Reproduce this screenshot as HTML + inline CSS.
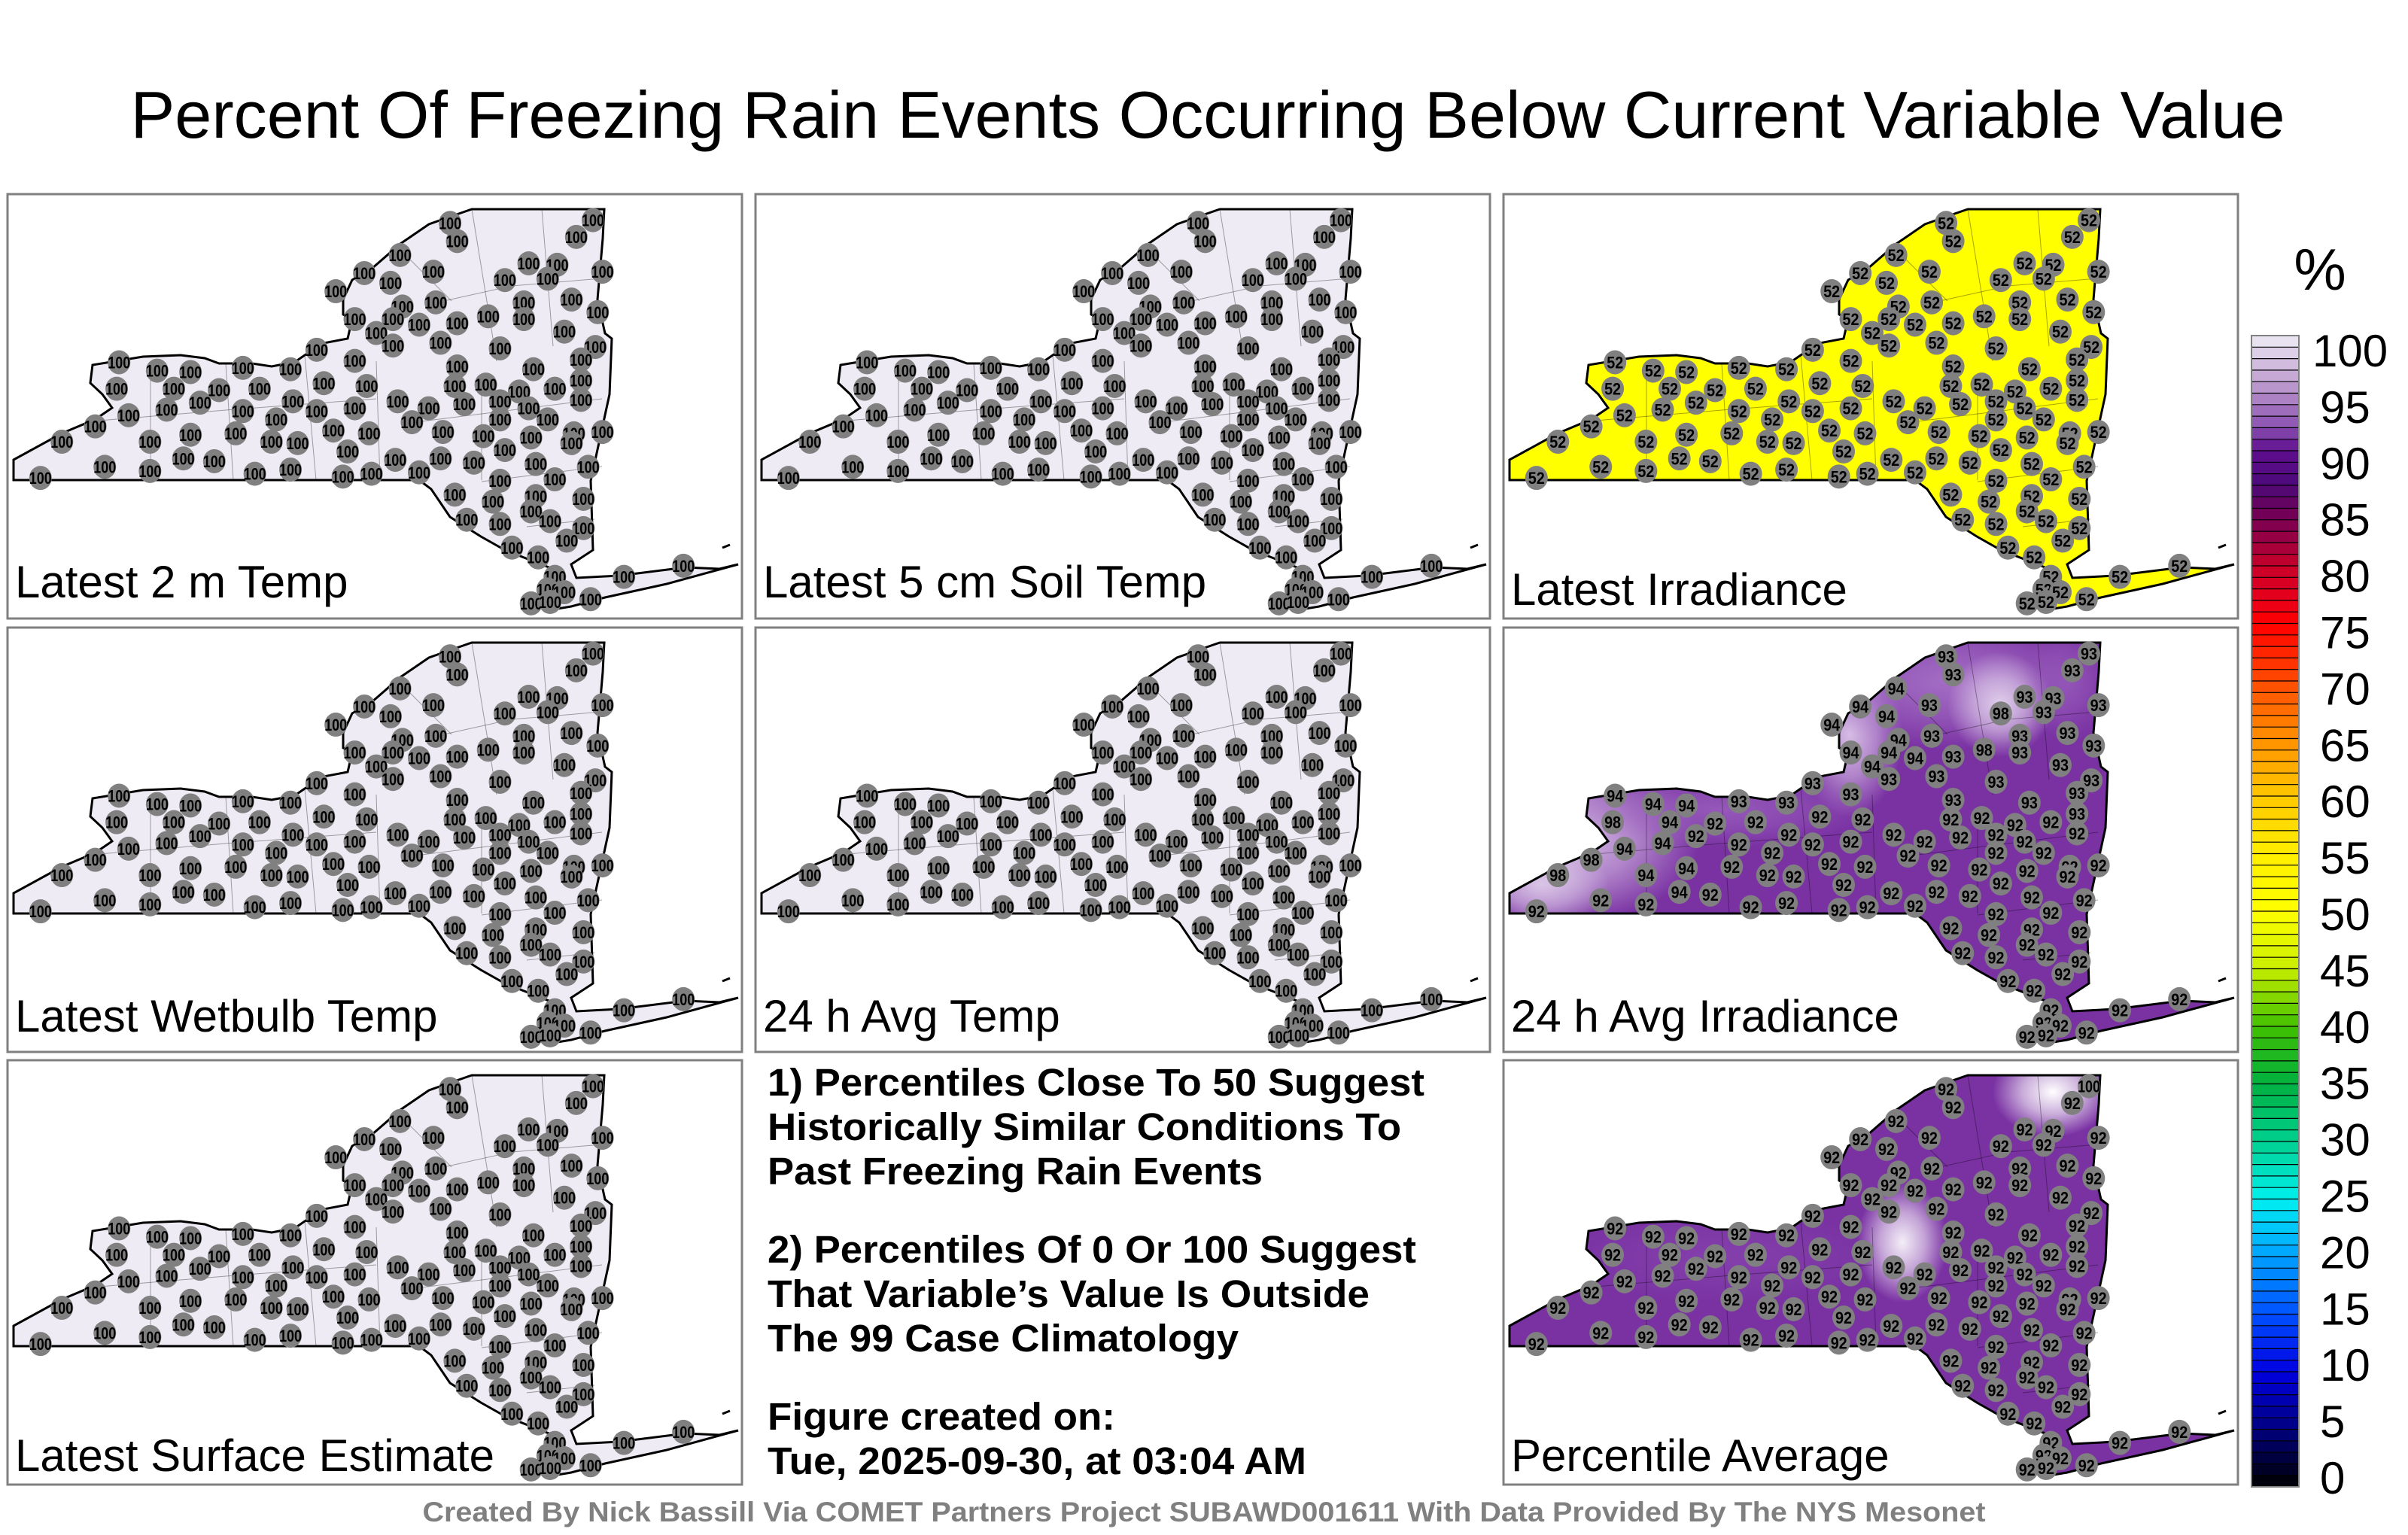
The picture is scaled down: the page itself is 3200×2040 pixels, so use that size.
<!DOCTYPE html>
<html><head><meta charset="utf-8"><style>
html,body{margin:0;padding:0;background:#fff;}
svg{display:block;}
text{font-family:"Liberation Sans",sans-serif;}
</style></head><body>
<svg id="s" width="3200" height="2040" viewBox="0 0 3200 2040" xmlns="http://www.w3.org/2000/svg">
<defs id="defs"></defs>
<rect width="3200" height="2040" fill="#fff"/>
<text x="1605" y="183" font-size="88" text-anchor="middle" textLength="2863" lengthAdjust="spacingAndGlyphs">Percent Of Freezing Rain Events Occurring Below Current Variable Value</text>
<g id="maps"></g>
<g font-weight="bold" font-size="51">
<text x="1020" y="1456" textLength="873" lengthAdjust="spacingAndGlyphs">1) Percentiles Close To 50 Suggest</text>
<text x="1020" y="1515" textLength="842" lengthAdjust="spacingAndGlyphs">Historically Similar Conditions To</text>
<text x="1020" y="1574" textLength="658" lengthAdjust="spacingAndGlyphs">Past Freezing Rain Events</text>
<text x="1020" y="1678" textLength="862" lengthAdjust="spacingAndGlyphs">2) Percentiles Of 0 Or 100 Suggest</text>
<text x="1020" y="1737" textLength="800" lengthAdjust="spacingAndGlyphs">That Variable’s Value Is Outside</text>
<text x="1020" y="1796" textLength="626" lengthAdjust="spacingAndGlyphs">The 99 Case Climatology</text>
<text x="1020" y="1900" textLength="462" lengthAdjust="spacingAndGlyphs">Figure created on:</text>
<text x="1020" y="1959" textLength="716" lengthAdjust="spacingAndGlyphs">Tue, 2025-09-30, at 03:04 AM</text>
</g>
<text x="1600" y="2022" font-size="37" font-weight="bold" fill="#808080" text-anchor="middle" textLength="2077" lengthAdjust="spacingAndGlyphs">Created By Nick Bassill Via COMET Partners Project SUBAWD001611 With Data Provided By The NYS Mesonet</text>
<g id="cbar"></g>
<text x="3083" y="385" font-size="78" text-anchor="middle">%</text>
</svg>
<script>
(function(){
var NS="http://www.w3.org/2000/svg";
function el(t,a,p){var e=document.createElementNS(NS,t);for(var k in a)e.setAttribute(k,a[k]);if(p)p.appendChild(e);return e;}
var defs=document.getElementById("defs");
var gid=0;
function grad(color,op){var id="rg"+(gid++);var r=el("radialGradient",{id:id},defs);
 el("stop",{offset:"0","stop-color":color,"stop-opacity":op},r);
 el("stop",{offset:"0.5","stop-color":color,"stop-opacity":op*0.6},r);
 el("stop",{offset:"1","stop-color":color,"stop-opacity":0},r);return "url(#"+id+")";}
var outline=[[18,611],[18,638],[557,638],[573,650],[598,687],[639,713],[671,731],[737,757],[750,768],[728,806],[741,809],[759,806],[804,794],[886,776],[981,750],[956,756],[911,754],[823,765],[766,768],[759,750],[788,731],[785,639],[810,524],[813,450],[804,443],[794,398],[801,317],[803,278],[627,278],[601,287],[570,298],[532,324],[494,357],[468,372],[456,398],[456,418],[468,424],[462,450],[430,456],[405,472],[392,481],[361,487],[335,483],[291,483],[272,476],[240,472],[190,474],[123,485],[120,509],[136,524],[149,542],[127,557],[82,576]];
var pathD="M"+outline.map(function(p){return p[0]+","+p[1];}).join("L")+"Z";
var z=[[945,125],[1245,115],[1210,175],[960,190],[840,240],[765,305],[910,300],[1110,270],[1170,275],[1265,300],[1060,330],[1150,325],[820,340],[705,370],[915,410],[1100,410],[1200,400],[1255,445],[845,425],[745,470],[825,470],[880,490],[960,485],[1025,460],[1100,470],[1185,515],[790,520],[825,565],[925,555],[1050,575],[1250,570],[665,580],[1220,615],[745,620],[960,640],[1120,650],[250,625],[330,655],[400,660],[510,645],[610,650],[1220,690],[245,720],[365,720],[460,725],[545,720],[680,700],[770,710],[955,710],[1020,705],[1090,730],[1165,720],[1220,760],[420,770],[615,765],[835,765],[900,790],[975,775],[1050,765],[1110,790],[350,795],[270,815],[510,800],[580,830],[665,800],[745,790],[865,840],[1050,830],[1150,830],[200,855],[400,885],[495,880],[700,870],[775,880],[930,875],[1015,890],[1115,895],[1205,880],[1265,875],[130,910],[315,910],[570,910],[625,915],[1060,940],[1200,915],[730,945],[385,970],[450,980],[830,975],[925,970],[995,985],[1125,990],[1235,1000],[220,1000],[315,1015],[535,1025],[610,1010],[720,1035],[780,1025],[880,1020],[85,1040],[1050,1050],[1165,1045],[955,1100],[1035,1125],[1125,1105],[1225,1115],[1115,1160],[980,1190],[1050,1205],[1155,1195],[1225,1220],[1190,1265],[1075,1290],[1130,1325],[1435,1355],[1310,1395],[1165,1395],[1150,1440],[1185,1450],[1240,1475],[1115,1490],[1155,1485]];
var pts=z.map(function(p){return [p[0]/1.58, 250+p[1]/2.7, p[0], p[1]];});
var panels=[
 {c:0,r:0,fill:"#efebf4",lab:"Latest 2 m Temp",v:function(){return "100";}},
 {c:1,r:0,fill:"#efebf4",lab:"Latest 5 cm Soil Temp",v:function(){return "100";}},
 {c:2,r:0,fill:"#ffff00",lab:"Latest Irradiance",v:function(){return "52";},ly:10},
 {c:0,r:1,fill:"#efebf4",lab:"Latest Wetbulb Temp",v:function(){return "100";}},
 {c:1,r:1,fill:"#efebf4",lab:"24 h Avg Temp",v:function(){return "100";}},
 {c:2,r:1,fill:"#7a32a3",lab:"24 h Avg Irradiance",v:function(p){if(p[2]<420&&p[3]<1000)return p[2]<250?"98":"94";if(p[3]<560)return p[2]>1000&&p[2]<1080?"98":(p[2]<900?"94":"93");if(p[3]<700)return "93";return "92";},
  shade:[[100,540,170,110,"#d8c0e6",0.95],[60,600,90,60,"#e6d8ef",0.8],[470,400,70,110,"#e0ccec",0.9],[600,330,200,90,"#a874c8",0.9],[670,360,70,70,"#e8dcf0",0.9],[300,500,200,50,"#9c62bf",0.8],[760,330,60,80,"#9c62bf",0.6]]},
 {c:0,r:2,fill:"#efebf4",lab:"Latest Surface Estimate",v:function(){return "100";}},
 {c:2,r:2,fill:"#7a32a3",lab:"Percentile Average",v:function(p){if(p[3]<130&&p[2]>1150&&p[2]<1260)return "100";return "92";},
  shade:[[740,300,80,60,"#ffffff",1],[540,500,60,80,"#f4eef8",1],[300,520,220,60,"#8a48b0",0.6]]}
];
var g=document.getElementById("maps");
panels.forEach(function(P,i){
 var dx=P.c*994, dy=[0,576,1151][P.r];
 el("rect",{x:10+dx,y:258+dy,width:976,height:564,fill:"#fff",stroke:"#808080","stroke-width":3},g);
 var gg=el("g",{transform:"translate("+dx+","+dy+")"},g);
 var cid="cp"+i;
 var cp=el("clipPath",{id:cid},gg); el("path",{d:pathD},cp);
 el("path",{d:pathD,fill:P.fill},gg);
 if(P.shade){var sg=el("g",{"clip-path":"url(#"+cid+")"},gg);
  P.shade.forEach(function(s){el("ellipse",{cx:s[0],cy:s[1],rx:s[2],ry:s[3],fill:grad(s[4],s[5])},sg);});}
 var lines=[[627,278,660,480],[720,278,735,460],[590,400,680,380],[680,380,800,370],[530,330,600,400],[405,472,420,638],[300,483,310,638],[200,485,200,638],[500,480,505,638],[640,500,640,638],[560,560,800,530],[640,640,800,620],[700,700,790,690],[120,560,300,545],[300,545,500,530]];
 lines.forEach(function(l){el("line",{x1:l[0],y1:l[1],x2:l[2],y2:l[3],stroke:"#000","stroke-opacity":0.35,"stroke-width":1},gg);});
 el("path",{d:pathD,fill:"none",stroke:"#000","stroke-width":3},gg);
 el("line",{x1:960,y1:728,x2:970,y2:724,stroke:"#000","stroke-width":3},gg);
 pts.forEach(function(p){
  el("ellipse",{cx:p[0],cy:p[1],rx:15,ry:16,fill:"#808080"},gg);
  var v=P.v(p);
  var t=el("text",{x:p[0],y:p[1]+8,"font-size":22,"font-weight":"bold","text-anchor":"middle",textLength:(v.length==3?30:22),lengthAdjust:"spacingAndGlyphs"},gg);
  t.textContent=v;
 });
 var lt=el("text",{x:20+dx,y:(P.r==0?794:(P.r==1?1371:1955))+(P.ly||0),"font-size":60},g);
 lt.textContent=P.lab;
});
var stops=[[100,[239,235,244]],[96,[192,160,208]],[92,[138,80,176]],[90,[94,13,143]],[87,[76,10,122]],[85,[106,0,90]],[83,[138,0,72]],[80,[200,0,42]],[77,[232,0,26]],[75,[255,0,0]],[70,[255,74,0]],[65,[255,144,0]],[60,[255,200,0]],[55,[255,238,0]],[50,[255,255,0]],[45,[200,238,0]],[40,[64,192,0]],[35,[0,176,64]],[30,[0,208,144]],[25,[0,240,240]],[20,[0,160,255]],[15,[0,80,255]],[10,[0,0,224]],[5,[0,0,128]],[0,[0,0,0]]];
function col(v){for(var i=0;i<stops.length-1;i++){var a=stops[i],b=stops[i+1];if(v<=a[0]&&v>=b[0]){var t=(a[0]-v)/(a[0]-b[0]);var c=a[1].map(function(x,j){return Math.round(x+(b[1][j]-x)*t);});return "rgb("+c.join(",")+")";}}return "#000";}
var cb=document.getElementById("cbar");
var top=446,bot=1976,h=(bot-top)/100;
for(var k=0;k<100;k++){el("rect",{x:2992,y:top+k*h,width:63,height:h+0.5,fill:col(99.5-k)},cb);
 el("line",{x1:2992,x2:3055,y1:top+k*h,y2:top+k*h,stroke:"#000","stroke-width":1.2},cb);}
el("rect",{x:2992,y:top,width:63,height:bot-top,fill:"none",stroke:"#808080","stroke-width":2},cb);
for(var L=100;L>=0;L-=5){var yy=465+(100-L)*((1963-465)/100);
 var t=el("text",{x:(L==100?3073:3083),y:yy+22,"font-size":60},cb);t.textContent=String(L);}
})();
</script>
</body></html>
